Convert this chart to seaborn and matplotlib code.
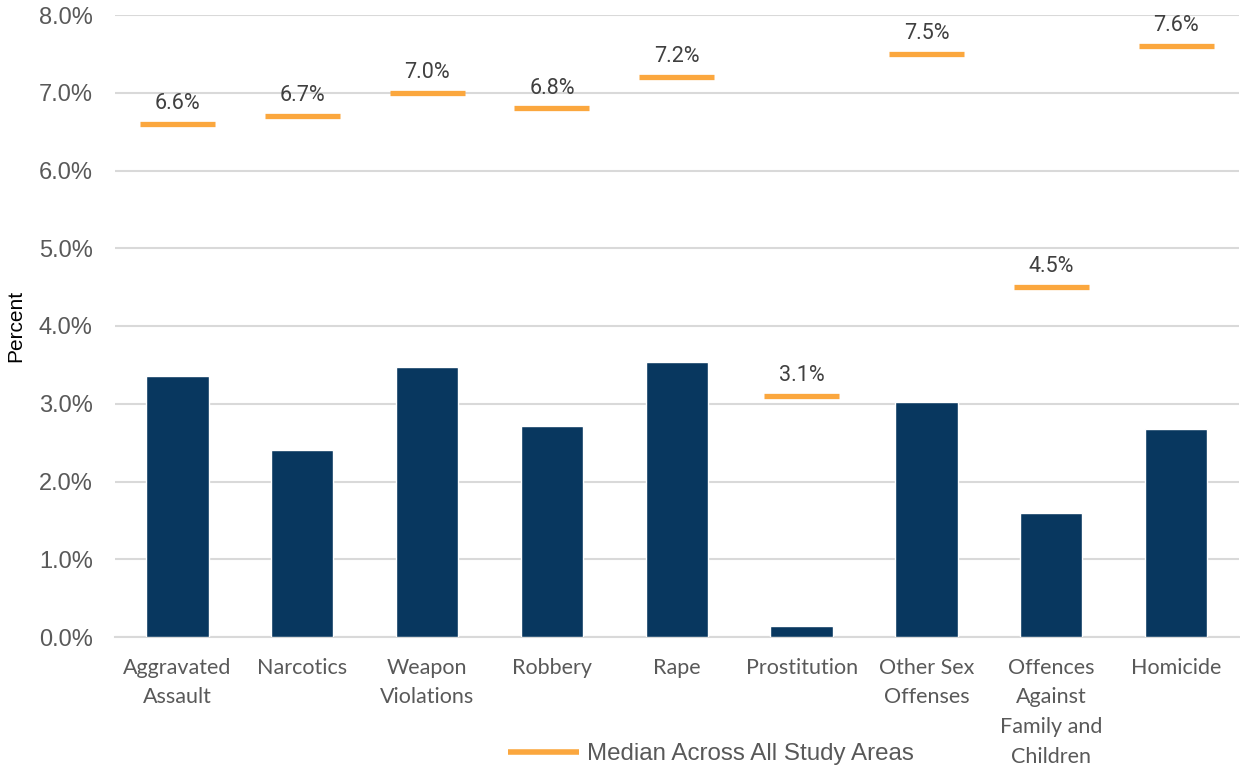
import matplotlib
matplotlib.use("Agg")
import matplotlib.pyplot as plt
from matplotlib.lines import Line2D
from matplotlib.ticker import FuncFormatter, MultipleLocator
import seaborn as sns
import pandas as pd

categories = [
    "Aggravated\nAssault", "Narcotics", "Weapon\nViolations", "Robbery", "Rape",
    "Prostitution", "Other Sex\nOffenses", "Offences\nAgainst\nFamily and\nChildren",
    "Homicide",
]
percent = [3.36, 2.41, 3.47, 2.72, 3.54, 0.14, 3.02, 1.59, 2.68]
median_all_areas = [6.6, 6.7, 7.0, 6.8, 7.2, 3.1, 7.5, 4.5, 7.6]
legend_label = "Median Across All Study Areas"

bar_color = "#08375F"
median_color = "#FBA73E"
grid_color = "#D9D9D9"
text_gray = "#595959"

sns.set_theme(style="white")
plt.rcParams["font.family"] = ["Liberation Sans", "DejaVu Sans"]

df = pd.DataFrame({"category": categories, "percent": percent})

fig = plt.figure(figsize=(12.4, 7.68), dpi=100)
ax = fig.add_axes([115 / 1240, 1 - 637 / 768, 1123.5 / 1240, 622 / 768])

sns.barplot(data=df, x="category", y="percent", color=bar_color, width=0.5,
            saturation=1, ax=ax, zorder=3)

# median markers with value labels above
xs = list(range(len(categories)))
ax.hlines(median_all_areas, [x - 0.3 for x in xs], [x + 0.3 for x in xs],
          color=median_color, lw=3.8, zorder=4, capstyle="butt")
for x, m in zip(xs, median_all_areas):
    ax.annotate(f"{m:.1f}%", (x, m), xytext=(0, 7), textcoords="offset points",
                ha="center", va="bottom", fontsize=15.5, family="Roboto",
                color="#404040", zorder=5)

ax.set_xlim(-0.5, len(categories) - 0.5)
ax.set_ylim(0, 8)
ax.yaxis.set_major_locator(MultipleLocator(1))
ax.yaxis.set_major_formatter(FuncFormatter(lambda v, _: f"{v:.1f}%"))
ax.grid(axis="y", color=grid_color, lw=1.5, zorder=0)
ax.set_axisbelow(True)
for side in ["top", "right", "left"]:
    ax.spines[side].set_visible(False)
ax.spines["bottom"].set_color(grid_color)
ax.spines["bottom"].set_linewidth(1.5)

ax.set_xlabel("")
ax.set_ylabel("Percent", fontsize=15, color="black", labelpad=10)
ax.tick_params(axis="y", length=0, pad=16, labelsize=17, labelcolor=text_gray)
ax.tick_params(axis="x", length=0, pad=15)
for lbl in ax.get_xticklabels():
    lbl.set_fontfamily("Lato")
    lbl.set_fontsize(15.5)
    lbl.set_color(text_gray)
    lbl.set_linespacing(1.6)

handle = Line2D([], [], color=median_color, lw=4, solid_capstyle="butt")
fig.legend([handle], [legend_label], loc="center left",
           bbox_to_anchor=(508 / 1240, 1 - 754 / 768), frameon=False,
           fontsize=17.4, handlelength=2.95, handletextpad=0.33,
           labelcolor=text_gray, borderaxespad=0, borderpad=0)

fig.savefig("out.png", dpi=100)
